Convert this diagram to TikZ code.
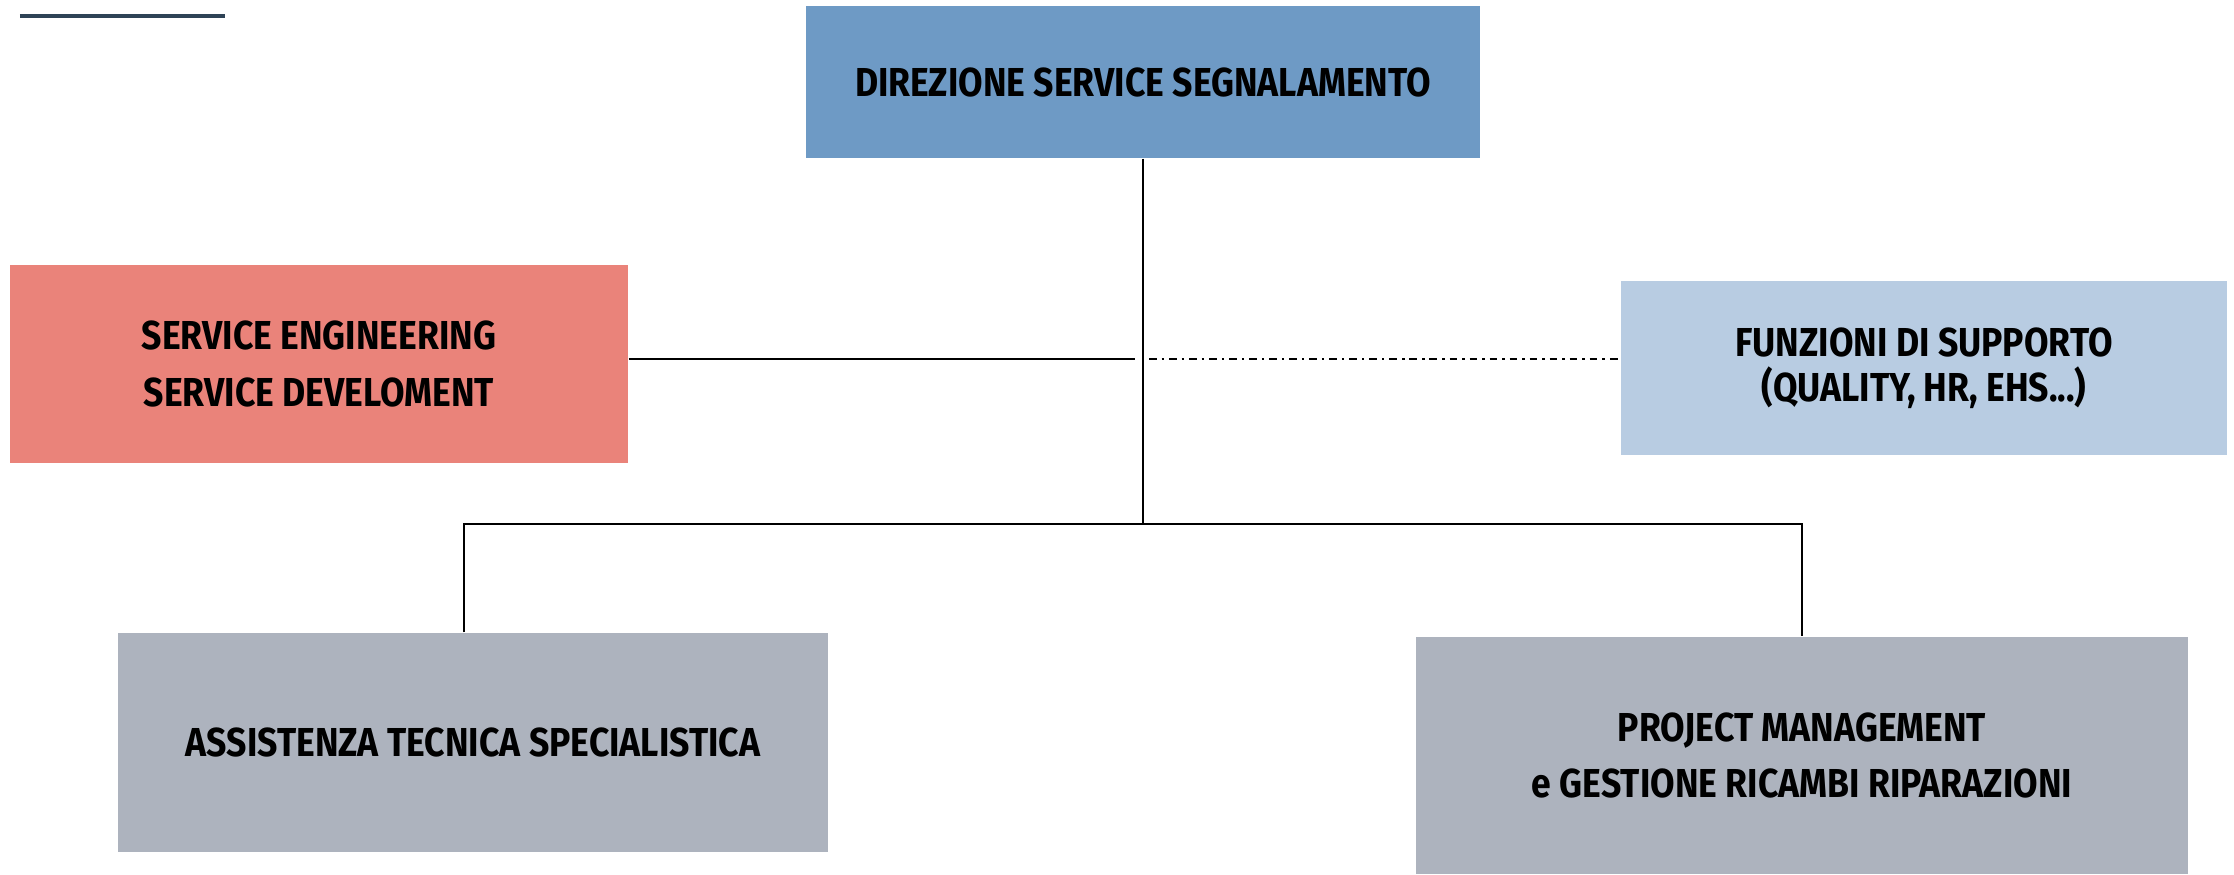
\documentclass[tikz,border=0pt]{standalone}
\usepackage{fontspec}
\newfontfamily\orgfont{Fira Sans}[FakeStretch=0.88]
\definecolor{dirblue}{HTML}{6E9AC5}
\definecolor{engred}{HTML}{EA837A}
\definecolor{suppblue}{HTML}{B8CCE2}
\definecolor{unitgray}{HTML}{ADB3BE}
\definecolor{rulegray}{HTML}{2E4356}
\begin{document}
\begin{tikzpicture}[
    orgbox/.style={inner sep=0pt, align=center, text=black,
        font=\orgfont\bfseries\fontsize{11.5}{16.2}\selectfont},
    tightbox/.style={orgbox, font=\orgfont\bfseries\fontsize{11.5}{12.8}\selectfont},
    link/.style={line width=0.6pt},
    dashdot line/.style={line width=0.6pt, dash pattern=on 2.2pt off 1.4pt on 0.7pt off 1.4pt}]
    \useasboundingbox (0,0) rectangle (22.34,-8.74);
    \draw[rulegray, line width=0.9pt] (0.20,-0.16) -- (2.25,-0.16);
    \node[orgbox, fill=dirblue, minimum width=6.74cm, minimum height=1.52cm] (dir) at (11.43,-0.82) {DIREZIONE SERVICE SEGNALAMENTO};
    \node[orgbox, fill=engred, minimum width=6.18cm, minimum height=1.98cm] (eng) at (3.19,-3.64) {SERVICE ENGINEERING\\SERVICE DEVELOMENT};
    \node[tightbox, fill=suppblue, minimum width=6.06cm, minimum height=1.74cm] (supp) at (19.24,-3.68) {FUNZIONI DI SUPPORTO\\(QUALITY, HR, EHS...)};
    \node[orgbox, fill=unitgray, minimum width=7.10cm, minimum height=2.19cm] (ats) at (4.73,-7.425) {ASSISTENZA TECNICA SPECIALISTICA};
    \node[orgbox, fill=unitgray, minimum width=7.72cm, minimum height=2.37cm] (pm) at (18.02,-7.555) {PROJECT MANAGEMENT\\e GESTIONE RICAMBI RIPARAZIONI};
    % connectors
    \coordinate (bus) at (11.43,-5.24);
    \coordinate (busl) at (4.64,-5.24);
    \coordinate (staffl) at (11.35,-3.59);
    \coordinate (staffr) at (11.49,-3.59);
    \draw[link] (dir.south) -- (bus);
    \draw[link] (ats.north -| busl) -- (busl) -- (bus -| pm.north) -- (pm.north);
    \draw[link] (eng.east |- staffl) -- (staffl);
    \draw[dashdot line] (staffr) -- (supp.west |- staffr);
\end{tikzpicture}
\end{document}
